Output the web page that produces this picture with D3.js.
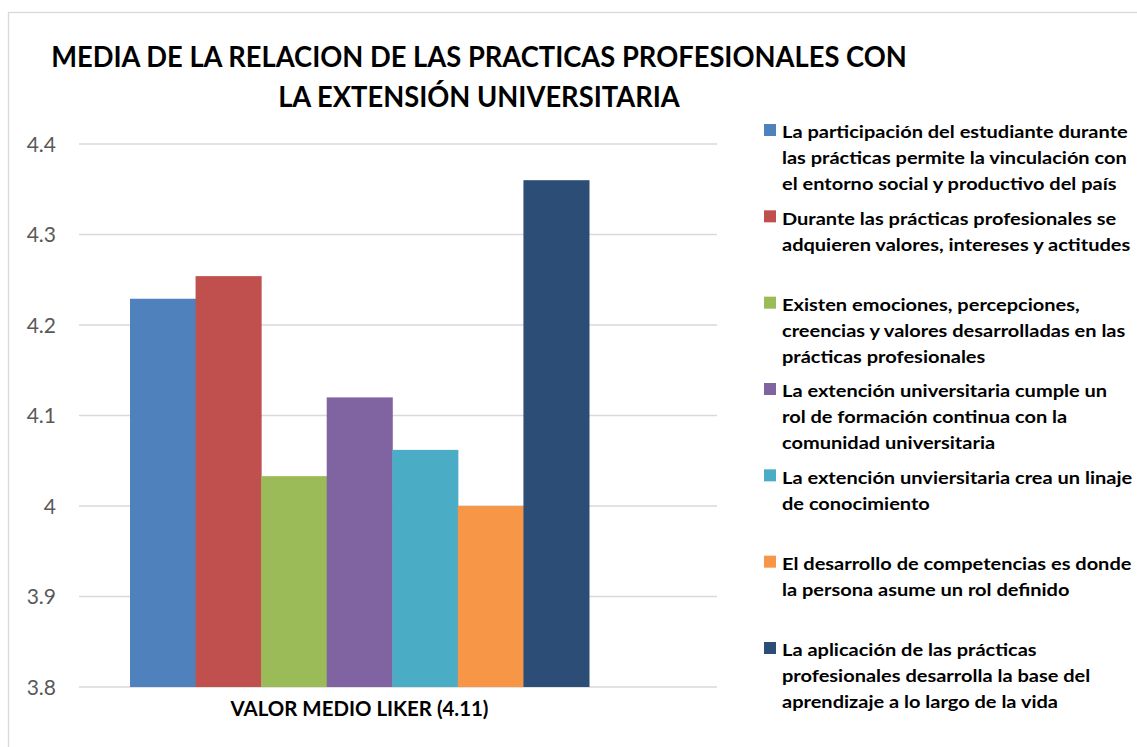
<!DOCTYPE html>
<html>
<head>
<meta charset="utf-8">
<script src="https://cdn.jsdelivr.net/npm/d3@7"></script>
<style>
  body { margin: 0; background: #fff; }
  svg { display: block; font-family: Lato, "Open Sans", sans-serif; }
</style>
</head>
<body>
<div id="chart-wrapper"></div>
<script>
const titleLines = ["MEDIA DE LA RELACION DE LAS PRACTICAS PROFESIONALES CON", "LA EXTENSIÓN UNIVERSITARIA"];
const categories = ["VALOR MEDIO LIKER (4.11)"];
const seriesValues = [4.229, 4.254, 4.033, 4.12, 4.062, 4.0, 4.36];
const seriesColors = ["#4F81BD", "#C0504D", "#9BBB59", "#8064A2", "#4BACC6", "#F79646", "#2C4D75"];
const seriesLabels = [
  ["La participación del estudiante durante", "las prácticas permite la vinculación con", "el entorno social y productivo del país"],
  ["Durante las prácticas profesionales se", "adquieren valores, intereses y actitudes"],
  ["Existen emociones, percepciones,", "creencias y valores desarrolladas en las", "prácticas profesionales"],
  ["La extención universitaria cumple un", "rol de formación continua con la", "comunidad universitaria"],
  ["La extención unviersitaria crea un linaje", "de conocimiento"],
  ["El desarrollo de competencias es donde", "la persona asume un rol definido"],
  ["La aplicación de las prácticas", "profesionales desarrolla la base del", "aprendizaje a lo largo de la vida"]
];
const yTicks = [3.8, 3.9, 4.0, 4.1, 4.2, 4.3, 4.4];

const width = 1137, height = 747;
const svg = d3.select("#chart-wrapper").append("svg")
      .attr("width", width)
      .attr("height", height);

// horizontal squeeze so Lato text takes the width Calibri had
function squeeze(text, size, target) {
      const t = svg.append("text").attr("font-size", size).attr("font-weight", "bold").text(text);
      const w = t.node().getComputedTextLength();
      t.remove();
      return target / w;
}

// chart frame
svg.append("rect")
      .attr("x", 8.5).attr("y", 12.5)
      .attr("width", width + 20).attr("height", height + 20)
      .attr("fill", "none").attr("stroke", "#d9d9d9").attr("stroke-width", 1.3);

const y = d3.scaleLinear().domain([3.8, 4.4]).range([687, 144]);
const x0 = d3.scaleBand().domain(categories).range([130, 589]);
const x1 = d3.scaleBand().domain(d3.range(seriesValues.length)).range([0, x0.bandwidth()]);

// gridlines
svg.append("g").selectAll("line")
      .data(yTicks)
      .join("line")
      .attr("x1", 79).attr("x2", 717)
      .attr("y1", d => y(d)).attr("y2", d => y(d))
      .attr("stroke", "#d9d9d9").attr("stroke-width", 1.4);

// y tick labels
svg.append("g").selectAll("text")
      .data(yTicks)
      .join("text")
      .attr("x", 56).attr("y", d => y(d))
      .attr("dy", "0.36em")
      .attr("text-anchor", "end")
      .attr("font-size", 21)
      .attr("fill", "#595959")
      .text(d => String(+d.toFixed(1)));

// bars
const group = svg.append("g").selectAll("g")
      .data(categories)
      .join("g")
      .attr("transform", d => `translate(${x0(d)},0)`);

group.selectAll("rect")
      .data(seriesValues.map((v, i) => ({ v, i })))
      .join("rect")
      .attr("x", d => x1(d.i))
      .attr("width", x1.bandwidth() + 0.5)
      .attr("y", d => y(d.v))
      .attr("height", d => y(3.8) - y(d.v))
      .attr("fill", d => seriesColors[d.i]);

// category label
const catSx = squeeze(categories[0], 21, 258);
svg.append("g").selectAll("text")
      .data(categories)
      .join("text")
      .attr("transform", d => `translate(${x0(d) + x0.bandwidth() / 2},708) scale(${catSx},1)`)
      .attr("dy", "0.36em")
      .attr("text-anchor", "middle")
      .attr("font-weight", "bold")
      .attr("font-size", 21)
      .attr("fill", "#000")
      .text(d => d);

// title
const titleSx = squeeze(titleLines[0], 28.5, 856);
svg.append("g").selectAll("text")
      .data(titleLines)
      .join("text")
      .attr("transform", (d, i) => `translate(479,${57 + i * 40}) scale(${titleSx},1)`)
      .attr("dy", "0.36em")
      .attr("text-anchor", "middle")
      .attr("font-weight", "bold")
      .attr("font-size", 28.5)
      .attr("fill", "#000")
      .text(d => d);

// legend
const legendY = d3.scaleLinear().domain([0, seriesLabels.length - 1]).range([130, 648]);
const legendSx = squeeze(seriesLabels[0][0], 17.5, 346);
const legend = svg.append("g").selectAll("g")
      .data(seriesLabels)
      .join("g")
      .attr("transform", (d, i) => `translate(764,${legendY(i)})`);

legend.append("rect")
      .attr("x", 0).attr("y", -6)
      .attr("width", 12).attr("height", 12)
      .attr("fill", (d, i) => seriesColors[i]);

legend.append("text")
      .attr("transform", `translate(18,0) scale(${legendSx},1)`)
      .attr("font-weight", "bold")
      .attr("font-size", 17.5)
      .attr("fill", "#000")
      .selectAll("tspan")
      .data(d => d)
      .join("tspan")
      .attr("x", 0)
      .attr("y", (d, i) => i * 26 + 2)
      .attr("dy", "0.36em")
      .text(d => d);
</script>
</body>
</html>
